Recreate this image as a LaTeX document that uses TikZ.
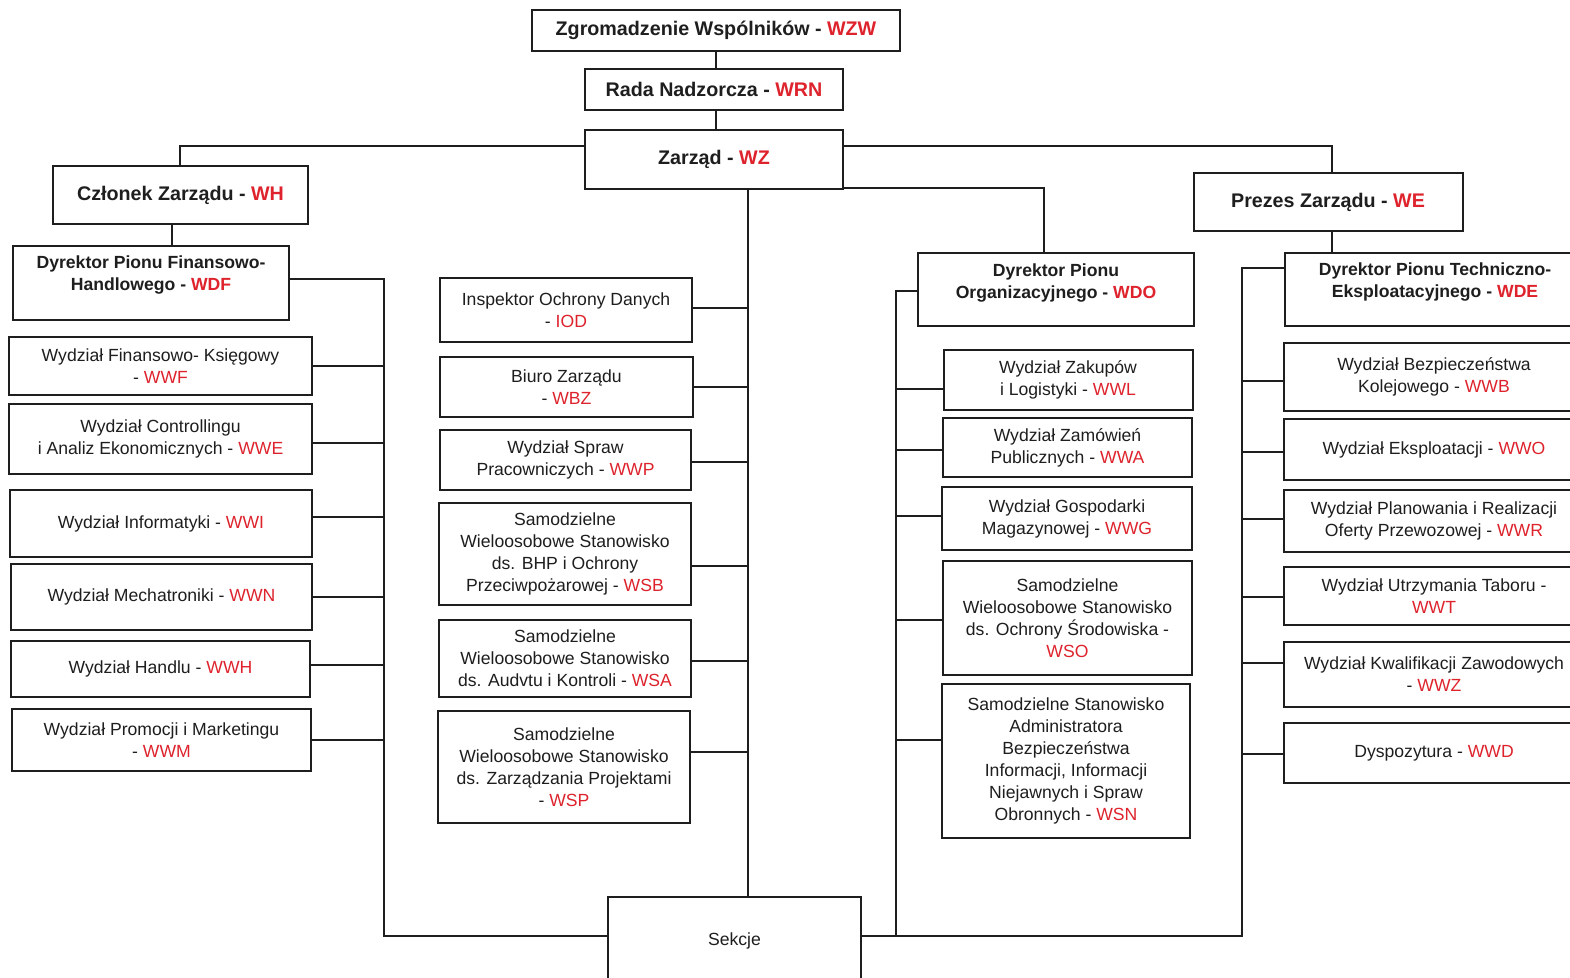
\documentclass[tikz,border=0pt]{standalone}
\usepackage{fontspec}
\setmainfont{Liberation Sans}
\definecolor{mred}{RGB}{222,35,45}
\definecolor{ink}{RGB}{30,30,30}
\newcommand{\rd}[1]{\textcolor{mred}{#1}}
\tikzset{
  sz/.style 2 args={minimum width=#1, minimum height=#2},
  box/.style={draw=ink, line width=2pt, fill=white, align=center, text=ink, inner sep=2pt, font=\fontsize{17.6}{22}\selectfont},
  bbox/.style={box, font=\bfseries\fontsize{19.7}{24}\selectfont},
  dbox/.style={box, font=\bfseries\fontsize{17.6}{22}\selectfont},
  dtxt/.style={align=center, text=ink, inner sep=0pt, font=\bfseries\fontsize{17.6}{22}\selectfont},
  conn/.style={draw=ink, line width=1.7pt},
}
\begin{document}
\begin{tikzpicture}[x=1pt,y=-1pt]
\useasboundingbox (0,0) rectangle (1570,977);
\fill[white] (0,0) rectangle (1570,977);

% top level
\node[bbox, sz={368}{41}] (wzw) at (716,30.5) {Zgromadzenie Wspólników - \rd{WZW}};
\node[bbox, sz={258}{41}] (wrn) at (714,89.5) {Rada Nadzorcza - \rd{WRN}};
\node[bbox, sz={258}{59}] (wz) at (714,159.5) {Zarząd - \rd{WZ}};
\node[bbox, sz={255}{58}] (wh) at (180.5,195) {Członek Zarządu - \rd{WH}};
\node[bbox, sz={269}{58}] (we) at (1328,202) {Prezes Zarządu - \rd{WE}};

% directors
\node[dbox, sz={276}{74}] (wdf) at (151,283) {};
\node[dtxt] (wdft) at ([yshift=8pt]wdf.center) {Dyrektor Pionu Finansowo-\\Handlowego - \rd{WDF}};
\node[dbox, sz={276}{73}] (wdo) at (1056,289.5) {};
\node[dtxt] (wdot) at ([yshift=7pt]wdo.center) {Dyrektor Pionu\\Organizacyjnego - \rd{WDO}};
\node[dbox, sz={300}{73}] (wde) at (1435,289.5) {};
\node[dtxt] (wdet) at ([yshift=8pt]wde.center) {Dyrektor Pionu Techniczno-\\Eksploatacyjnego - \rd{WDE}};

% left column
\node[box, sz={303}{58}] (wwf) at (160.5,366) {Wydział Finansowo- Księgowy\\- \rd{WWF}};
\node[box, sz={303}{70}] (wwe) at (160.5,439) {Wydział Controllingu\\i Analiz Ekonomicznych - \rd{WWE}};
\node[box, sz={302}{67}] (wwi) at (161,523.5) {Wydział Informatyki - \rd{WWI}};
\node[box, sz={301}{66}] (wwn) at (161.5,597) {Wydział Mechatroniki - \rd{WWN}};
\node[box, sz={299}{56}] (wwh) at (160.5,669) {Wydział Handlu - \rd{WWH}};
\node[box, sz={299}{62}] (wwm) at (161.5,740) {Wydział Promocji i Marketingu\\- \rd{WWM}};

% centre column
\node[box, sz={252}{64}] (iod) at (566,310) {Inspektor Ochrony Danych\\- \rd{IOD}};
\node[box, sz={253}{60}] (wbz) at (566.5,387) {Biuro Zarządu\\- \rd{WBZ}};
\node[box, sz={251}{60}] (wwp) at (565.5,460) {Wydział Spraw\\Pracowniczych - \rd{WWP}};
\node[box, sz={252}{102}] (wsb) at (565,554) {Samodzielne\\Wieloosobowe Stanowisko\\ds. BHP i Ochrony\\Przeciwpożarowej - \rd{WSB}};
\node[box, sz={252}{77}] (wsa) at (565,658.5) {Samodzielne\\Wieloosobowe Stanowisko\\ds. Audvtu i Kontroli - \rd{WSA}};
\node[box, sz={252}{112}] (wsp) at (564,767) {Samodzielne\\Wieloosobowe Stanowisko\\ds. Zarządzania Projektami\\- \rd{WSP}};
\node[box, sz={253}{88}] (sek) at (734.5,941) {Sekcje};

% organizational column
\node[box, sz={249}{60}] (wwl) at (1068,380) {Wydział Zakupów\\i Logistyki - \rd{WWL}};
\node[box, sz={249}{59}] (wwa) at (1067.5,447.5) {Wydział Zamówień\\Publicznych - \rd{WWA}};
\node[box, sz={250}{63}] (wwg) at (1067,518.5) {Wydział Gospodarki\\Magazynowej - \rd{WWG}};
\node[box, sz={249}{114}] (wso) at (1067.5,618) {Samodzielne\\Wieloosobowe Stanowisko\\ds. Ochrony Środowiska -\\\rd{WSO}};
\node[box, sz={248}{154}] (wsn) at (1066,761) {Samodzielne Stanowisko\\Administratora\\Bezpieczeństwa\\Informacji, Informacji\\Niejawnych i Spraw\\Obronnych - \rd{WSN}};

% technical column
\node[box, sz={300}{68}] (wwb) at (1434,377) {Wydział Bezpieczeństwa\\Kolejowego - \rd{WWB}};
\node[box, sz={300}{61}] (wwo) at (1434,449.5) {Wydział Eksploatacji - \rd{WWO}};
\node[box, sz={300}{62}] (wwr) at (1434,521) {Wydział Planowania i Realizacji\\Oferty Przewozowej - \rd{WWR}};
\node[box, sz={300}{58}] (wwt) at (1434,596) {Wydział Utrzymania Taboru -\\\rd{WWT}};
\node[box, sz={300}{65}] (wwz) at (1434,674.5) {Wydział Kwalifikacji Zawodowych\\- \rd{WWZ}};
\node[box, sz={300}{60}] (wwd) at (1434,753) {Dyspozytura - \rd{WWD}};

% bus coordinates
\coordinate (tc) at (716,0);
\coordinate (tL) at (180,146);
\coordinate (tR) at (1332,146);
\coordinate (hd) at (172,0);
\coordinate (bL) at (384,279);
\coordinate (bLb) at (384,936);
\coordinate (bC) at (748,0);
\coordinate (oT) at (1044,188);
\coordinate (bO) at (896,291);
\coordinate (bOb) at (896,936);
\coordinate (bE) at (1242,268);
\coordinate (bEb) at (1242,936);

% connectors
\draw[conn] (wzw.south -| tc) -- (wrn.north -| tc);
\draw[conn] (wrn.south -| tc) -- (wz.north -| tc);
\draw[conn] (wz.west |- tL) -- (tL) -- (tL |- wh.north);
\draw[conn] (wz.east |- tR) -- (tR) -- (tR |- we.north);
\draw[conn] (wh.south -| hd) -- (wdf.north -| hd);
\draw[conn] (we.south -| tR) -- (wde.north -| tR);
\draw[conn] (wdf.east |- bL) -- (bL) -- (bLb) -- (sek.west |- bLb);
\draw[conn] (wz.south -| bC) -- (sek.north -| bC);
\draw[conn] (wz.east |- oT) -- (oT) -- (oT |- wdo.north);
\draw[conn] (wdo.west |- bO) -- (bO) -- (bOb);
\draw[conn] (wde.west |- bE) -- (bE) -- (bEb) -- (sek.east |- bEb);

\foreach \n/\s in {wwf/0, wwe/-4, wwi/6.5, wwn/0, wwh/4, wwm/0} {
  \path ([yshift=\s pt]\n.east) coordinate (tmp);
  \draw[conn] (tmp) -- (tmp -| bL);
}
\foreach \n/\s in {iod/2, wbz/0, wwp/-2, wsb/-12, wsa/-2.5, wsp/15} {
  \path ([yshift=\s pt]\n.east) coordinate (tmp);
  \draw[conn] (tmp) -- (tmp -| bC);
}
\foreach \n/\s in {wwl/-9, wwa/-2.5, wwg/2.5, wso/-2, wsn/21} {
  \path ([yshift=\s pt]\n.west) coordinate (tmp);
  \draw[conn] (tmp) -- (tmp -| bO);
}
\foreach \n/\s in {wwb/-4, wwo/-2.5, wwr/2, wwt/-1, wwz/11.5, wwd/-1} {
  \path ([yshift=\s pt]\n.west) coordinate (tmp);
  \draw[conn] (tmp) -- (tmp -| bE);
}
\end{tikzpicture}
\end{document}
